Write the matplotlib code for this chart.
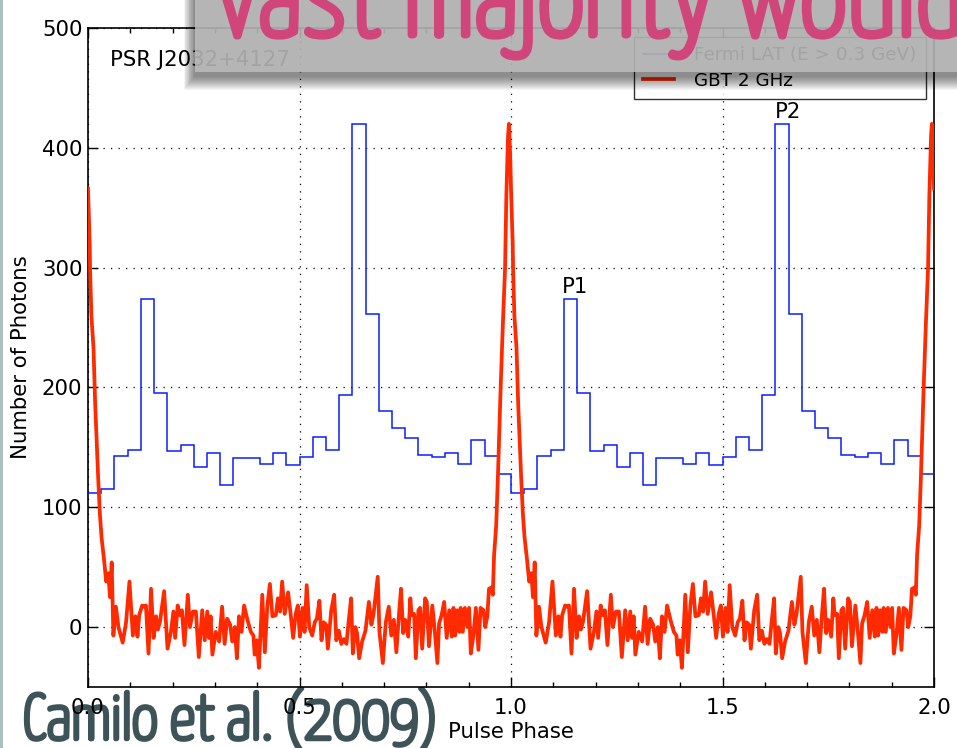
import numpy as np
import matplotlib
matplotlib.use("Agg")
import matplotlib.pyplot as plt
import matplotlib.patheffects as pe
from matplotlib.patches import Rectangle
from matplotlib import font_manager as fm

# ---- data -------------------------------------------------------------
# Fermi LAT photon counts, 32 phase bins over one rotation
gamma_counts = [112, 115, 143, 148, 274, 195, 147, 152, 134, 145, 119, 141,
                141, 136, 145, 135, 142, 159, 148, 194, 420, 261, 180, 166,
                158, 144, 142, 145, 136, 156, 143, 128]

# GBT 2 GHz radio profile over one rotation (phase, flux)
radio_phase = [0.000, 0.004, 0.005, 0.008, 0.013, 0.017, 0.021, 0.024, 0.028, 0.032,
               0.038, 0.043, 0.048, 0.052, 0.056, 0.060, 0.066, 0.072, 0.082, 0.090,
               0.098, 0.106, 0.112, 0.117, 0.121, 0.128, 0.133, 0.137, 0.143, 0.149,
               0.155, 0.161, 0.165, 0.170, 0.180, 0.188, 0.196, 0.202, 0.206, 0.212,
               0.217, 0.222, 0.228, 0.236, 0.241, 0.248, 0.255, 0.262, 0.270, 0.276,
               0.282, 0.286, 0.290, 0.294, 0.302, 0.310, 0.317, 0.323, 0.329, 0.336,
               0.341, 0.347, 0.352, 0.357, 0.363, 0.369, 0.377, 0.385, 0.391, 0.394,
               0.399, 0.404, 0.412, 0.418, 0.424, 0.430, 0.436, 0.444, 0.449, 0.454,
               0.459, 0.465, 0.473, 0.479, 0.485, 0.491, 0.496, 0.501, 0.507, 0.512,
               0.517, 0.523, 0.530, 0.536, 0.541, 0.547, 0.552, 0.557, 0.563, 0.567,
               0.575, 0.582, 0.587, 0.593, 0.599, 0.605, 0.611, 0.616, 0.622, 0.626,
               0.632, 0.636, 0.641, 0.648, 0.656, 0.664, 0.670, 0.675, 0.685, 0.689,
               0.697, 0.704, 0.711, 0.717, 0.723, 0.729, 0.735, 0.740, 0.745, 0.750,
               0.757, 0.762, 0.765, 0.771, 0.775, 0.781, 0.785, 0.790, 0.797, 0.801,
               0.806, 0.814, 0.820, 0.826, 0.830, 0.836, 0.842, 0.848, 0.854, 0.860,
               0.864, 0.868, 0.873, 0.878, 0.881, 0.886, 0.891, 0.897, 0.901, 0.905,
               0.911, 0.917, 0.923, 0.928, 0.935, 0.939, 0.944, 0.948, 0.954, 0.957,
               0.960, 0.965, 0.969, 0.976, 0.981, 0.986, 0.989, 0.993, 0.995, 0.998]
radio_flux = [366, 320, 297, 260, 233, 186, 150, 125, 95, 75,
              56, 38, 45, 25, 54, -7, 17, 0, -13, 4,
              38, -7, 9, -8, 10, 18, 17, 18, -22, 32,
              -9, 9, -2, 4, 30, -18, -4, 13, -9, 18,
              10, 14, -15, 27, 0, 13, 13, -25, 14, -11,
              13, -9, 9, -23, -4, -12, 17, -14, 7, 2,
              -12, 0, -26, 9, -4, 18, 6, -4, -7, -23,
              -11, -34, 27, -21, 18, 36, 9, 10, 24, 13,
              38, 11, 29, 11, -9, 11, 18, -8, 16, -4,
              35, 0, -7, 4, 7, 22, -11, 4, 2, -18,
              14, 27, -11, -3, -14, -10, -14, 4, 24, -22,
              0, -5, -26, -12, -3, 21, 2, 11, 42, -4,
              -30, 4, 17, -7, 6, -21, 10, 32, -5, 6,
              -8, 24, 10, 11, -26, 14, 16, -18, 24, 21,
              -16, 18, -4, -30, 3, 10, 21, -9, 14, -8,
              16, -7, 14, -4, 16, -4, 16, 0, 16, -22,
              -7, 16, -19, 16, 14, 0, 9, 32, 33, 27,
              60, 85, 125, 205, 255, 300, 360, 410, 420, 395]

x_ticks = [0.0, 0.5, 1.0, 1.5, 2.0]
y_ticks = [0, 100, 200, 300, 400, 500]
source_name = "PSR J2032+4127"
series_labels = ["Fermi LAT (E > 0.3 GeV)", "GBT 2 GHz"]
peak_labels = ["P1", "P2"]
peak_pos = [(1.151, 279), (1.655, 425)]
citation = "Camilo et al. (2009)"
headline = "vast majority would"

# two rotations are shown
n_rot = 2
gamma_two = np.tile(gamma_counts, n_rot)
gamma_edges = np.linspace(0, n_rot, len(gamma_two) + 1)
rp = np.asarray(radio_phase)
radio_x = np.concatenate([rp + k for k in range(n_rot)] + [[float(n_rot)]])
radio_y = np.concatenate([radio_flux] * n_rot + [[radio_flux[0]]])

# ---- figure -----------------------------------------------------------
plt.rcParams["font.family"] = ["DejaVu Sans"]
W, H = 957, 748
fig = plt.figure(figsize=(W / 100, H / 100), dpi=100)
fig.patch.set_facecolor("white")


def fx(px):
    return px / W


def fy(py):
    return 1 - py / H


ax = fig.add_axes([fx(88), fy(687), fx(934) - fx(88), fy(28) - fy(687)])

ax.stairs(gamma_two, gamma_edges, baseline=None, color="#0a1eff", lw=1.1,
          label=series_labels[0], zorder=3)
ax.plot(radio_x, radio_y, color="#ff2a00", lw=2.7, solid_joinstyle="round",
        label=series_labels[1], zorder=4)

ax.set_xlim(0, 2)
ax.set_ylim(-50, 500)
ax.set_xticks(x_ticks)
ax.set_xticklabels([f"{t:.1f}" for t in x_ticks])
ax.set_yticks(y_ticks)
ax.set_xticks(np.arange(0, 2.0001, 0.1), minor=True)
ax.tick_params(which="both", direction="in", top=True, right=True, width=1.0,
               labelsize=15.3)
ax.tick_params(which="major", length=7)
ax.tick_params(which="minor", length=3.5)
ax.tick_params(axis="x", pad=8)
ax.tick_params(axis="y", pad=4)
for s in ax.spines.values():
    s.set_linewidth(1.2)
ax.grid(True, which="major", color="black", linestyle=(0, (1, 5)), lw=0.9)

ax.set_xlabel("Pulse Phase", fontsize=15.3, labelpad=3)
ax.set_ylabel("Number of Photons", fontsize=15.3, labelpad=8)

ax.text(0.026, 0.943, source_name, transform=ax.transAxes, fontsize=15.3,
        va="baseline", ha="left")
for lab, (px, py) in zip(peak_labels, peak_pos):
    ax.text(px, py, lab, fontsize=15.3, ha="center", va="baseline")

leg = ax.legend(loc="upper right", bbox_to_anchor=((926 - 88) / 846, 1 - (37 - 28) / 659),
                borderaxespad=0, fancybox=False, fontsize=13.2, handlelength=1.7,
                handletextpad=1.1, borderpad=0.5, labelspacing=0.4)
leg.get_frame().set_edgecolor("black")
leg.get_frame().set_linewidth(1.0)

# ---- slide elements ---------------------------------------------------
slide_font = [f for f in ["Yanone Kaffeesatz", "Roboto Condensed", "DejaVu Sans"]
              if any(e.name == f for e in fm.fontManager.ttflist)][:1] + ["DejaVu Sans"]

# thin frame line at the left edge of the slide
fig.add_artist(Rectangle((0, 0), fx(2.5), 1, transform=fig.transFigure,
                         color="#aebfc0", lw=0, zorder=1))

# title banner with soft drop shadow
bx0, by1 = 195, 72
for i in range(1, 15):
    fig.add_artist(Rectangle((fx(bx0 - i * 0.8), fy(by1 + 4 + i)), 1 - fx(bx0 - i) + 0.01,
                             fy(0) - fy(by1 + 4 + i) + 0.01, transform=fig.transFigure,
                             color="black", alpha=0.04, lw=0, zorder=8))
fig.add_artist(Rectangle((fx(bx0), fy(by1)), 1 - fx(bx0) + 0.01, 1 - fy(by1) + 0.01,
                         transform=fig.transFigure, color="#bcbcbc", alpha=0.87,
                         lw=0, zorder=9))
pink = "#d0467a"
fig.text(fx(216), fy(35), headline, fontsize=82, color=pink,
         family=slide_font, ha="left", va="baseline", zorder=10,
         path_effects=[pe.withStroke(linewidth=5.0, foreground=pink)])

slate = "#3d5358"
fig.text(fx(23), fy(739), citation, fontsize=46, color=slate,
         family=slide_font, ha="left", va="baseline", zorder=-1,
         path_effects=[pe.withStroke(linewidth=3.2, foreground=slate)])

fig.savefig("out.png", dpi=100)
